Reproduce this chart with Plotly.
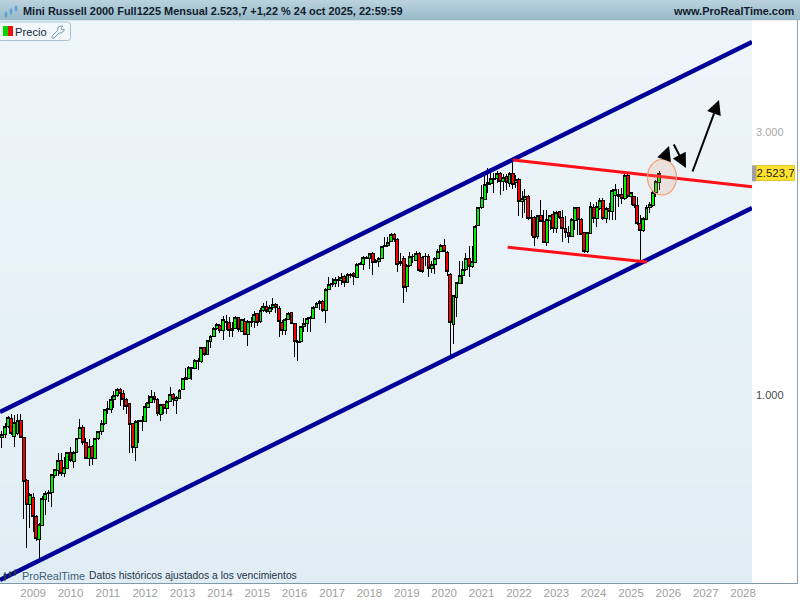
import math
import pandas as pd
import plotly.graph_objects as go

opens = [
 837,848,876,905,842,853,900,838,700,632,
 652,603,548,580,646,662,665,714,729,760,721,736,
 786,757,788,834,873,821,768,806,766,834,857,888,
 941,941,983,1000,1025,1008,983,964,887,802,894,895,
 896,950,971,993,983,922,960,947,973,1001,978,987,
 1023,1069,1073,1115,1118,1148,1149,1221,1186,1249,1275,1321,
 1337,1308,1353,1355,1308,1321,1383,1306,1362,1287,1356,1362,
 1403,1358,1426,1446,1416,1442,1460,1436,1354,1308,1372,1410,
 1350,1247,1249,1330,1350,1374,1378,1442,1466,1480,1426,1555,
 1589,1594,1612,1610,1640,1601,1644,1663,1635,1726,1728,1770,
 1770,1807,1740,1750,1770,1859,1866,1897,1959,1916,1733,1768,
 1571,1714,1780,1757,1804,1775,1780,1787,1695,1726,1768,1824,
 1870,1812,1656,1345,1503,1596,1645,1687,1768,1709,1739,2030,
 2184,2261,2413,2423,2464,2474,2520,2440,2491,2423,2520,2433,
 2464,2240,2261,2293,2087,2095,1937,2116,2067,1889,2075,2125,
 2002,2148,2101,2002,1969,1942,2075,2184,2081,1969,1819,1964,
 2191,2091,2180,2256,2091,2180,2149,2299,2293,2306,2273,2505,
 2288,2288,2205,2048,1987,2085,2190,2210,2325,2429]
highs = [
 862,889,917,925,919,923,923,840,703,665,
 665,605,585,655,670,673,720,735,786,786,771,788,
 806,791,836,905,883,834,831,813,836,862,900,945,
 974,994,1015,1029,1029,1020,987,967,889,900,902,915,
 967,1000,1020,1011,987,964,964,980,1035,1008,994,1026,
 1075,1119,1129,1126,1160,1166,1224,1224,1260,1285,1327,1352,
 1348,1391,1397,1383,1358,1391,1387,1374,1378,1368,1387,1422,
 1410,1436,1466,1483,1456,1497,1466,1452,1368,1378,1416,1416,
 1353,1259,1334,1378,1383,1391,1450,1476,1486,1486,1561,1634,
 1628,1640,1645,1663,1651,1663,1663,1675,1733,1745,1787,1787,
 1812,1820,1762,1777,1866,1937,1937,1970,1970,1923,1812,1787,
 1726,1819,1799,1825,1819,1787,1812,1799,1750,1783,1837,1880,
 1915,1825,1663,1518,1604,1750,1750,1812,1862,1862,2030,2193,
 2406,2525,2578,2578,2525,2549,2542,2520,2520,2542,2670,2508,
 2474,2340,2364,2309,2169,2110,2125,2261,2169,2163,2125,2154,
 2154,2160,2169,2110,2024,2095,2193,2193,2095,1975,1975,2237,
 2218,2242,2273,2273,2195,2226,2369,2419,2361,2374,2512,2512,
 2335,2299,2288,2121,2106,2210,2242,2340,2453,2549]
lows = [
 801,837,870,847,806,847,835,597,528,574,
 565,544,506,578,605,640,627,708,714,712,711,734,
 757,736,786,831,813,766,743,748,764,829,847,883,
 923,928,947,992,956,941,923,786,786,759,820,860,
 893,947,968,967,915,896,923,923,970,954,925,983,
 1020,1066,1070,1066,1115,1110,1145,1176,1181,1216,1272,1312,
 1298,1259,1312,1275,1272,1316,1303,1303,1284,1228,1327,1321,
 1335,1352,1416,1407,1400,1426,1407,1275,1284,1284,1368,1346,
 1174,1154,1244,1303,1303,1303,1372,1436,1426,1416,1353,1551,
 1572,1572,1572,1583,1572,1594,1628,1583,1628,1721,1685,1762,
 1696,1651,1733,1707,1765,1854,1859,1892,1897,1673,1714,1471,
 1539,1709,1739,1750,1672,1667,1714,1634,1667,1656,1762,1816,
 1816,1644,1183,1238,1383,1589,1589,1679,1640,1702,1733,2024,
 2175,2255,2324,2406,2324,2423,2309,2340,2356,2380,2364,2371,
 2110,2095,2139,2081,1942,1867,1920,2058,1889,1863,1996,1969,
 1969,2090,1894,1929,1884,1937,1996,1947,1947,1812,1812,1958,
 2048,2019,2165,2078,2048,2078,2078,2078,2195,2218,2258,2273,
 2210,2187,2034,1730,1979,2078,2135,2195,2288,2353]
closes = [
 848,876,909,853,893,900,838,698,632,660,
 603,550,583,648,662,665,717,732,760,719,738,786,
 760,788,834,873,821,768,806,766,834,857,888,941,
 944,983,1000,1022,1008,983,954,884,802,896,899,900,
 954,971,994,983,926,960,947,975,1001,983,990,1020,
 1070,1076,1122,1121,1154,1154,1220,1184,1255,1279,1321,1345,
 1308,1368,1357,1308,1321,1383,1312,1368,1287,1362,1362,1397,
 1354,1426,1446,1416,1442,1458,1440,1362,1308,1372,1407,1350,
 1249,1253,1330,1350,1378,1382,1442,1466,1480,1422,1555,1587,
 1594,1617,1621,1635,1599,1651,1656,1640,1726,1733,1777,1777,
 1807,1740,1752,1770,1859,1869,1892,1959,1916,1726,1750,1567,
 1714,1787,1787,1804,1679,1674,1787,1697,1728,1768,1824,1870,
 1824,1672,1354,1514,1600,1645,1687,1768,1709,1743,2024,2184,
 2277,2406,2433,2474,2474,2520,2440,2484,2430,2520,2413,2464,
 2245,2268,2293,2087,2095,1929,2116,2067,1894,2081,2116,2002,
 2145,2095,2002,1969,1942,2081,2184,2081,1955,1824,1969,2193,
 2091,2195,2249,2091,2180,2149,2353,2361,2306,2273,2505,2288,
 2329,2205,2048,1987,2091,2190,2218,2325,2436,2523.7]
dates = pd.date_range("2008-03-01", periods=len(closes), freq="MS").strftime("%Y-%m-%d").tolist()

channel_upper_x = ["2008-02-12", "2028-03-28"]
channel_upper_y = [931.5, 4369]
channel_lower_x = ["2008-02-12", "2028-03-28"]
channel_lower_y = [462, 2184]
resistance_x = ["2021-11-05", "2028-03-28"]
resistance_y = [2669, 2387]
support_x = ["2021-09-13", "2025-06-06"]
support_y = [1853, 1743]

year_ticks = [f"{y}-01-01" for y in range(2009, 2029)]
year_labels = [str(y) for y in range(2009, 2029)]
price_ticks = [1000, 3000]
price_labels = ['<span style="color:#4a4a4a">1.000</span>', '<span style="color:#a8a8a8">3.000</span>']
last_price = 2523.7

title = "Mini Russell 2000 Full1225 Mensual 2.523,7 +1,22 % 24 oct 2025, 22:59:59"
site = "www.ProRealTime.com"
note = "Datos históricos ajustados a los vencimientos"

FONT = "Liberation Sans, Arial, sans-serif"
PW, PT, PH = 752.0, 20.0, 563.0
def px(x): return x / PW
def py(y): return 1 - (y - PT) / PH

def rect(x0, y0, x1, y1, color, **kw):
    return dict(type="rect", xref="paper", yref="paper", x0=px(x0), x1=px(x1), y0=py(y1), y1=py(y0),
                fillcolor=color, line=dict(width=0), **kw)

def mix(a, b, t):
    return "rgb(%d,%d,%d)" % tuple(round(a[i] + (b[i] - a[i]) * t) for i in range(3))

shapes = []
n = 40
for i in range(n):
    y0 = PT + PH * i / n
    y1 = PT + PH * (i + 1) / n + 0.5
    shapes.append(rect(0, y0, PW, min(y1, PT + PH), mix((238, 245, 250), (224, 237, 244), i / (n - 1)), layer="below"))
for i in range(20):
    shapes.append(rect(0, i, 800, i + 1.3, mix((186, 210, 222), (152, 185, 200), i / 19), layer="below"))
shapes.append(rect(0, 583, 798, 584, "#7f99a6", layer="above"))
shapes.append(rect(797, 20, 798, 584, "#8ba3ae", layer="above"))
yval = math.log10(last_price)
shapes.append(dict(type="rect", xref="paper", yref="y", x0=px(752), x1=px(756),
                   y0=last_price * 10 ** (-8 / 551.3), y1=last_price * 10 ** (8 / 551.3),
                   fillcolor="#a0a0a0", line=dict(width=0)))
shapes.append(dict(type="circle", xref="paper", yref="paper", x0=px(647.5), x1=px(676.5), y0=py(195), y1=py(159.5),
                   fillcolor="rgba(240,165,125,0.22)", line=dict(color="#f59a6b", width=1.2)))
def rr(x0, y0, x1, y1, r):
    X0, X1, Y0, Y1 = px(x0), px(x1), py(y0), py(y1)
    rx, ry = r / PW, r / PH
    return (f"M {X0+rx} {Y0} L {X1-rx} {Y0} Q {X1} {Y0} {X1} {Y0-ry} L {X1} {Y1+ry} Q {X1} {Y1} {X1-rx} {Y1} "
            f"L {X0+rx} {Y1} Q {X0} {Y1} {X0} {Y1+ry} L {X0} {Y0-ry} Q {X0} {Y0} {X0+rx} {Y0} Z")
shapes.append(dict(type="path", xref="paper", yref="paper", path=rr(-2, 22, 70.5, 40.5, 3),
                   fillcolor="#f1f7fb", line=dict(color="#a8c4d4", width=1)))
shapes.append(rect(3, 26, 8, 36, "#00d800"))
shapes.append(rect(8, 26, 13, 36, "#f01010"))
wrench = [(52, 36), (58, 30), (58, 27), (61, 26), (63, 26), (61, 28), (62, 30), (64, 29), (64, 31), (61, 33), (59, 33), (54, 38), (52, 38)]
shapes.append(dict(type="path", xref="paper", yref="paper",
                   path="M " + " L ".join(f"{px(a)} {py(b)}" for a, b in wrench) + " Z",
                   fillcolor="rgba(0,0,0,0)", line=dict(color="#7f9fb5", width=1)))
for (x, yt, yb, c) in [(6, 11, 18, "#5aa0d8"), (11, 8, 15, "#5aa0d8"), (16, 5, 12, "#5aa0d8"),
                       (5, 572, 581, "#20384f"), (10, 571, 578, "#20384f"), (15, 569, 576, "#20384f")]:
    shapes.append(rect(x - 1.3, yt + 1.5, x + 1.3, yb - 1.5, c, layer="above"))
    shapes.append(rect(x - 0.4, yt, x + 0.4, yb, c, layer="above"))

def text(x, y, s, size, color, anchor="left", bold=False):
    return dict(xref="paper", yref="paper", x=px(x), y=py(y), text=f"<b>{s}</b>" if bold else s, showarrow=False,
                xanchor=anchor, yanchor="middle", font=dict(family=FONT, size=size, color=color),
                borderpad=0, borderwidth=0)

def arrow(x0, y0, x1, y1):
    return dict(xref="paper", yref="paper", x=px(x1), y=py(y1), ax=x0 - x1, ay=y0 - y1, axref="pixel", ayref="pixel",
                text="", showarrow=True, arrowhead=2, arrowsize=1.45, arrowwidth=2, arrowcolor="#000000",
                standoff=0, startstandoff=0)

annotations = [
    text(23, 11, title, 10.95, "#10202c", bold=True),
    text(795, 11, site, 10.95, "#10202c", anchor="right", bold=True),
    text(15, 31.5, "Precio", 11.2, "#1a2a36"),
    text(22, 575.5, "ProRealTime", 10.9, "#3f5f78"),
    text(89, 575, note, 10.3, "#1e3346"),
    dict(xref="paper", yref="y", x=px(756.5), y=yval, text="2.523,7", showarrow=False, xanchor="left", yanchor="middle",
         width=37, height=14, align="center",
         font=dict(family=FONT, size=11.4, color="#222222"), bgcolor="#ffe22e", bordercolor="#e3c62a", borderwidth=1, borderpad=0),
    arrow(692, 173, 719, 100),
    arrow(664, 160, 669, 146),
    arrow(673, 143, 686, 168),
]

fig = go.Figure()
fig.add_trace(go.Candlestick(
    x=dates, open=opens, high=highs, low=lows, close=closes,
    increasing=dict(line=dict(color="#000000", width=1), fillcolor="#00ee00"),
    decreasing=dict(line=dict(color="#000000", width=1), fillcolor="#f80000"),
    whiskerwidth=0, hoverinfo="skip", showlegend=False))
for xs, ys, col, w in [(channel_upper_x, channel_upper_y, "#000099", 4.5),
                       (channel_lower_x, channel_lower_y, "#000099", 4.5),
                       (resistance_x, resistance_y, "#ff1018", 3),
                       (support_x, support_y, "#ff1018", 3)]:
    fig.add_trace(go.Scatter(x=xs, y=ys, mode="lines", line=dict(color=col, width=w), hoverinfo="skip", showlegend=False))

fig.update_layout(
    width=800, height=600, margin=dict(l=0, r=48, t=20, b=17),
    paper_bgcolor="#ffffff", plot_bgcolor="#e8f1f7", boxgap=0, boxgroupgap=0,
    hovermode=False, showlegend=False, shapes=shapes, annotations=annotations,
    xaxis=dict(type="date", range=["2008-02-12", "2028-03-28"], rangeslider=dict(visible=False),
               tickvals=year_ticks, ticktext=year_labels, showgrid=False, zeroline=False, showline=False,
               ticks="", ticklabelstandoff=1, tickfont=dict(family=FONT, size=11.5, color="#a0a0a0"), automargin=False),
    yaxis=dict(type="log", range=[2.659, 3.6802], side="right", tickvals=price_ticks, ticktext=price_labels,
               showgrid=False, zeroline=False, showline=False, ticks="", ticklabelstandoff=3,
               tickfont=dict(family=FONT, size=11, color="#555555"), automargin=False),
)
fig.write_html("out.html", config=dict(displayModeBar=False),
               post_script=("document.body.style.margin='0';document.body.style.overflow='hidden';"
                            "document.querySelectorAll('.boxes path').forEach(function(p){p.style.shapeRendering='crispEdges';});"))
